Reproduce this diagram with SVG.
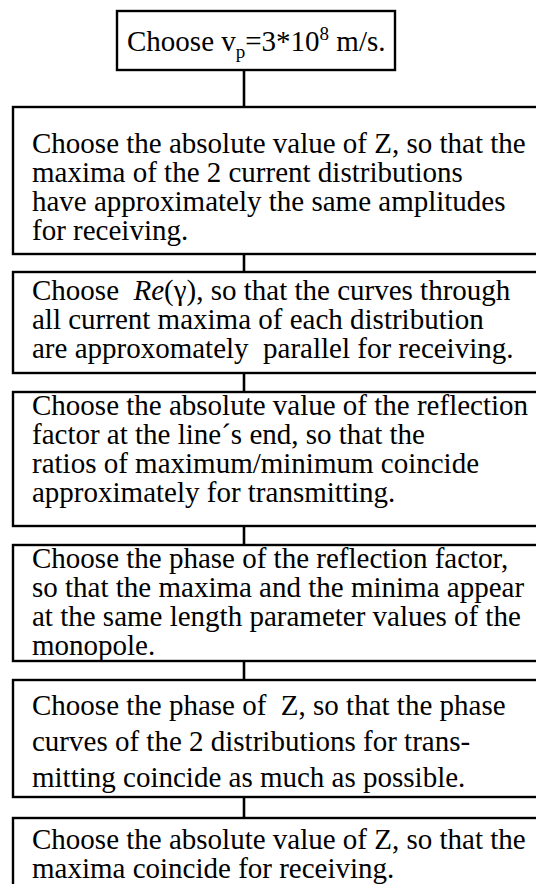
<svg xmlns="http://www.w3.org/2000/svg" width="536" height="884" viewBox="0 0 536 884">
<style>
.box{fill:#fff;stroke:#000;stroke-width:2.4}
.con{stroke:#000;stroke-width:2.6;fill:none}
text{font-family:"Liberation Serif","Times New Roman",serif;font-size:29px;fill:#000;white-space:pre}
.s{font-size:19px}
</style>
<rect width="536" height="884" fill="#fff"/>
<g id="connectors">
<line class="con" x1="244" y1="70" x2="244" y2="107"/>
<line class="con" x1="244" y1="254" x2="244" y2="272"/>
<line class="con" x1="244" y1="373" x2="244" y2="392"/>
<line class="con" x1="244" y1="526" x2="244" y2="545"/>
<line class="con" x1="244" y1="661" x2="244" y2="680"/>
<line class="con" x1="244" y1="797" x2="244" y2="818"/>
</g>
<g id="n1">
<rect class="box" x="117" y="11" width="278" height="59"/>
<text x="127" y="51" xml:space="preserve">Choose v<tspan class="s" dy="7">p</tspan><tspan dy="-7">=3*10</tspan><tspan class="s" dy="-11">8</tspan><tspan dy="11"> m/s.</tspan></text>
</g>
<g id="n2">
<rect class="box" x="13" y="107" width="560" height="147"/>
<text x="32" y="153">Choose the absolute value of Z, so that the</text>
<text x="32" y="182">maxima of the 2 current distributions</text>
<text x="32" y="211">have approximately the same amplitudes</text>
<text x="32" y="240">for receiving.</text>
</g>
<g id="n3">
<rect class="box" x="13" y="272" width="560" height="101"/>
<text x="32" y="300" xml:space="preserve">Choose  <tspan font-style="italic">Re</tspan>(γ), so that the curves through</text>
<text x="32" y="329">all current maxima of each distribution</text>
<text x="32" y="358" xml:space="preserve">are approxomately  parallel for receiving.</text>
</g>
<g id="n4">
<rect class="box" x="13" y="392" width="560" height="134"/>
<text x="32" y="415">Choose the absolute value of the reflection</text>
<text x="32" y="444">factor at the line´s end, so that the</text>
<text x="32" y="473">ratios of maximum/minimum coincide</text>
<text x="32" y="502">approximately for transmitting.</text>
</g>
<g id="n5">
<rect class="box" x="13" y="545" width="560" height="116"/>
<text x="32" y="568">Choose the phase of the reflection factor,</text>
<text x="32" y="597">so that the maxima and the minima appear</text>
<text x="32" y="626">at the same length parameter values of the</text>
<text x="32" y="655">monopole.</text>
</g>
<g id="n6">
<rect class="box" x="13" y="680" width="560" height="117"/>
<text x="32" y="715" xml:space="preserve">Choose the phase of  Z, so that the phase</text>
<text x="32" y="751">curves of the 2 distributions for trans-</text>
<text x="32" y="787">mitting coincide as much as possible.</text>
</g>
<g id="n7">
<rect class="box" x="13" y="818" width="560" height="100"/>
<text x="32" y="849">Choose the absolute value of Z, so that the</text>
<text x="32" y="878">maxima coincide for receiving.</text>
</g>
</svg>
